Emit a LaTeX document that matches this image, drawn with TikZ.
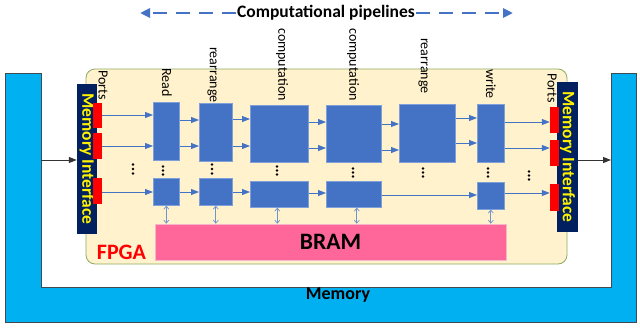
\documentclass[tikz,border=0pt]{standalone}
\usepackage{fontspec}
\setmainfont{Carlito}
\usetikzlibrary{arrows.meta,calc}
\definecolor{memblue}{HTML}{00B0F0}
\definecolor{memedge}{HTML}{3F4A52}
\definecolor{fpgafill}{HTML}{FFF2CC}
\definecolor{fpgaedge}{HTML}{8CAB62}
\definecolor{blkfill}{HTML}{4472C4}
\definecolor{blkedge}{HTML}{7F9FD8}
\definecolor{navy}{HTML}{002060}
\definecolor{bramfill}{HTML}{FF6699}
\definecolor{bramedge}{HTML}{F4B6C8}
\definecolor{linkblue}{HTML}{6F93D0}
\newcommand{\hflow}[3]{\draw[flow] (#1.east |- 0,#3) -- (#2.west |- 0,#3);}
\newcommand{\threedots}[3]{\foreach \k in {0,1,2}{\fill (#1,{#2+1.5+\k*(#3-#2-3)/2}) circle (1.3);}}
\begin{document}
\begin{tikzpicture}[x=1pt,y=-1pt,
  memory/.style={fill=memblue,draw=memedge,line width=1pt},
  fpga/.style={fill=fpgafill,draw=fpgaedge,line width=0.8pt,rounded corners=9pt},
  blk/.style={fill=blkfill,draw=blkedge,line width=0.6pt,anchor=north west,inner sep=0pt},
  mibar/.style={fill=navy,draw=none,inner sep=0pt},
  mitext/.style={rotate=-90,text=yellow,font=\fontsize{17.5}{17.5}\selectfont\bfseries,inner sep=0pt},
  port/.style={fill=red,draw=none,minimum width=9pt,inner sep=0pt},
  lbl/.style={rotate=-90,anchor=west,inner sep=0pt,font=\fontsize{14}{14}\selectfont},
  flow/.style={draw=blkfill,line width=0.8pt,-{Triangle[length=8pt,width=6pt]}},
  link/.style={draw=linkblue,line width=0.7pt,{Straight Barb[length=3pt,width=5pt]}-{Straight Barb[length=3pt,width=5pt]}},
  feed/.style={draw=black!80,line width=1pt,-{Triangle[length=8pt,width=6pt]}},
  pipe/.style={draw=blkfill,line width=2.5pt,dash pattern=on 14pt off 9pt,-{Triangle[length=10pt,width=9pt]}}
]
\useasboundingbox (0,0) rectangle (640,327);

% external memory (U-shaped)
\draw[memory] (5,73) -- (41,73) -- (41,287) -- (611,287) -- (611,73) -- (636,73) -- (636,322) -- (5,322) -- cycle;
\node[font=\fontsize{18}{18}\selectfont\bfseries] (memlabel) at (338,295) {Memory};

% FPGA board
\draw[fpga] (86,69) rectangle (567,264);
\node[text=red,font=\fontsize{22}{22}\selectfont\bfseries] (fpgalabel) at (121.5,252) {FPGA};

% memory interfaces
\node[mibar,minimum width=20pt,minimum height=150pt] (mil) at (87,159) {};
\node[mitext] at (mil.center) {Memory Interface};
\node[mibar,minimum width=21pt,minimum height=150pt] (mir) at (567.5,157) {};
\node[mitext] at (mir.center) {Memory Interface};

% ports
\node[port,minimum height=25pt] (pl1) at (97.5,115.5) {};
\node[port,minimum height=26pt] (pl2) at (97.5,146) {};
\node[port,minimum height=26pt] (pl3) at (97.5,191) {};
\node[port,minimum height=26pt] (pr1) at (554.5,120) {};
\node[port,minimum height=26pt] (pr2) at (554.5,153) {};
\node[port,minimum height=27pt] (pr3) at (554.5,197.5) {};

% pipeline stages
\node[blk,minimum width=26pt,minimum height=58pt] (r1) at (153,102) {};
\node[blk,minimum width=33pt,minimum height=58pt] (rr1) at (199,103) {};
\node[blk,minimum width=58pt,minimum height=57pt] (c1) at (250,105) {};
\node[blk,minimum width=55pt,minimum height=57pt] (c2) at (326,105) {};
\node[blk,minimum width=56pt,minimum height=58pt] (rr2) at (399,104) {};
\node[blk,minimum width=27pt,minimum height=58pt] (w) at (477,104) {};
\node[blk,minimum width=26pt,minimum height=27pt] (r1b) at (153,178) {};
\node[blk,minimum width=33pt,minimum height=27pt] (rr1b) at (199,178) {};
\node[blk,minimum width=58pt,minimum height=26pt] (c1b) at (250,181) {};
\node[blk,minimum width=55pt,minimum height=26pt] (c2b) at (326,181) {};
\node[blk,minimum width=27pt,minimum height=27pt] (wb) at (477,182) {};

% BRAM
\node[fill=bramfill,draw=bramedge,line width=0.6pt,minimum width=351pt,minimum height=36pt,inner sep=0pt,
      font=\fontsize{23.5}{23.5}\selectfont\bfseries] (bram) at (330.5,242) {BRAM};

% stage labels
\node[lbl] at (103,70) {Ports};
\node[lbl] at (167,68) {Read};
\node[lbl] at (212,47) {rearrange};
\node[lbl] at (282,28) {computation};
\node[lbl] at (353,28) {computation};
\node[lbl] at (423,38) {rearrange};
\node[lbl] at (491,69) {write};
\node[lbl] at (552,73) {Ports};

% data flow
\hflow{pl1}{r1}{115} \hflow{pl2}{r1}{146} \hflow{pl3}{r1b}{192}
\hflow{r1}{rr1}{120} \hflow{r1}{rr1}{146} \hflow{r1b}{rr1b}{192}
\hflow{rr1}{c1}{119} \hflow{rr1}{c1}{146} \hflow{rr1b}{c1b}{192}
\hflow{c1}{c2}{122} \hflow{c1}{c2}{148} \hflow{c1b}{c2b}{193}
\hflow{c2}{rr2}{124} \hflow{c2}{rr2}{150} \hflow{c2b}{wb}{195}
\hflow{rr2}{w}{118} \hflow{rr2}{w}{143}
\hflow{w}{pr1}{122} \hflow{w}{pr2}{148} \hflow{wb}{pr3}{193}

% BRAM access
\draw[link] (r1b.south) -- (r1b.south |- bram.north);
\draw[link] (rr1b.south) -- (rr1b.south |- bram.north);
\draw[link] ($(c1b.south)+(-2,0)$) -- ($(c1b.south |- bram.north)+(-2,0)$);
\draw[link] ($(c2b.south)+(3,0)$) -- ($(c2b.south |- bram.north)+(3,0)$);
\draw[link] (wb.south) -- (wb.south |- bram.north);

% continuation dots
\threedots{133}{163}{175}
\threedots{163}{165}{176}
\threedots{212}{163}{175}
\threedots{277}{165}{176}
\threedots{353}{167}{178}
\threedots{423}{167}{178}
\threedots{488}{167}{178}
\threedots{529}{170}{181}

% memory <-> interface
\coordinate (memL) at (41,160);
\coordinate (memR) at (611,160);
\draw[feed] (memL) -- (memL -| mil.west);
\draw[feed] (memR -| mir.east) -- (memR);

% pipeline direction banner
\node[font=\fontsize{17.5}{17.5}\selectfont\bfseries,inner sep=1pt] (title) at (326,13) {Computational pipelines};
\coordinate (pipeL) at (140,13);
\coordinate (pipeR) at (513,13);
\draw[pipe] (title.west) -- (pipeL);
\draw[pipe] (title.east) -- (pipeR);
\end{tikzpicture}
\end{document}
